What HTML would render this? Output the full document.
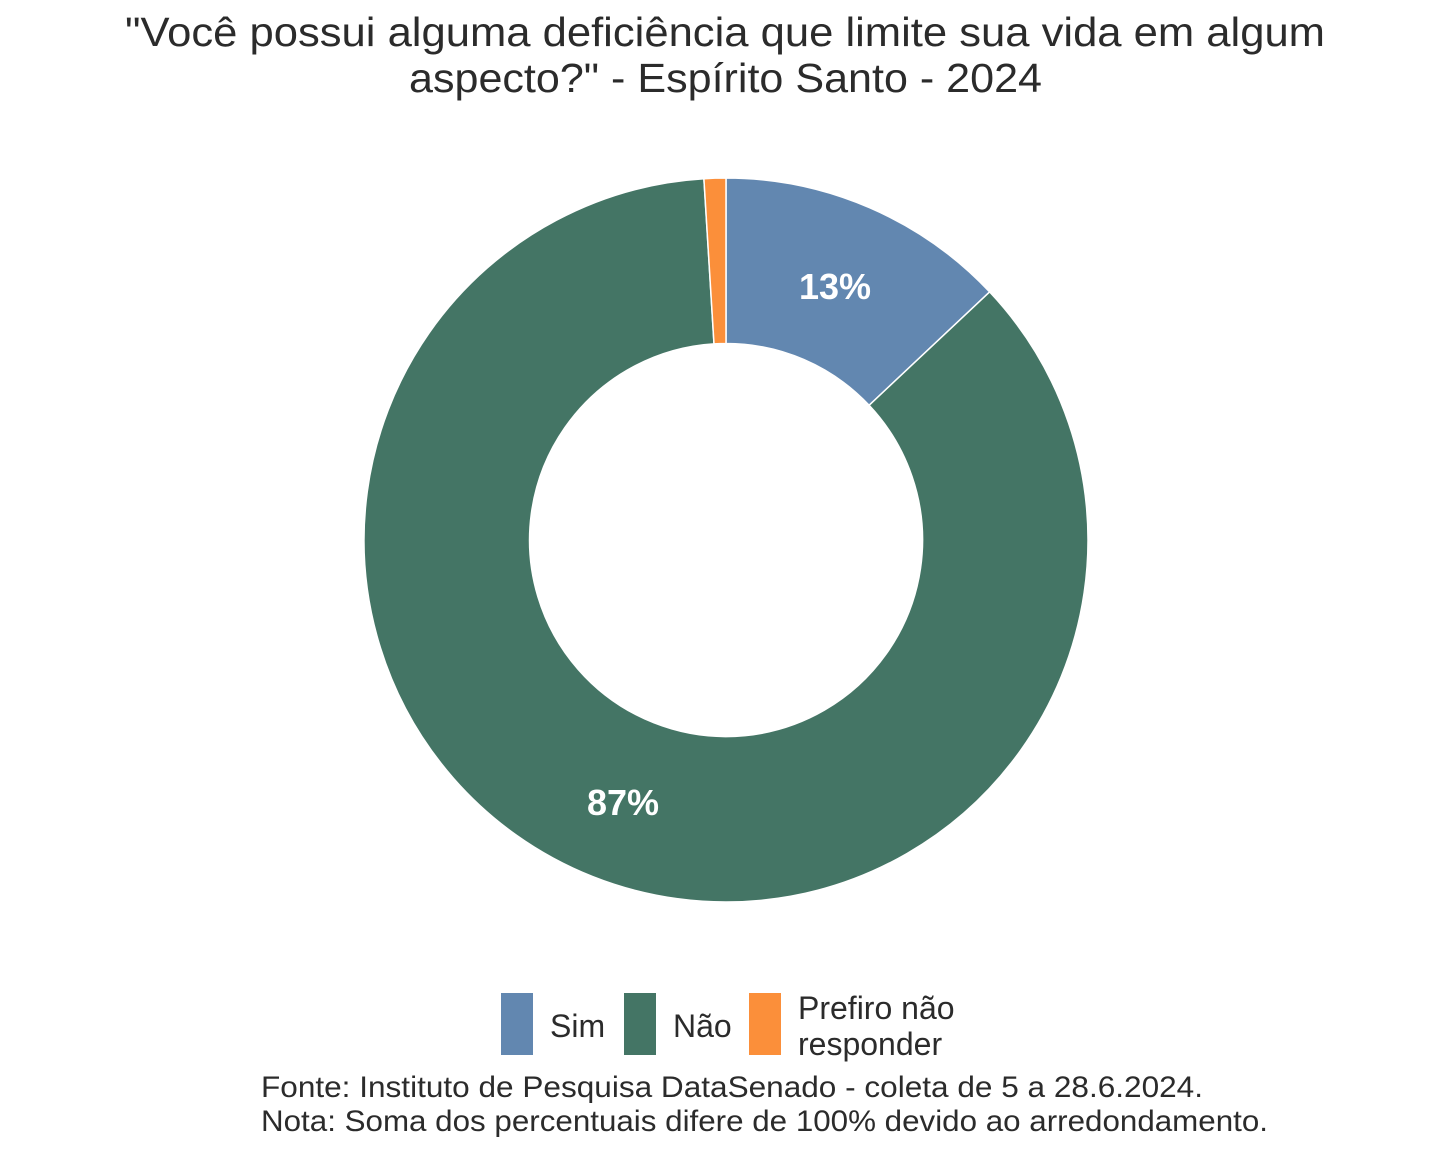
<!DOCTYPE html>
<html><head><meta charset="utf-8"><style>
body{margin:0;background:#fff;}
svg text{font-family:"Liberation Sans",Arial,sans-serif;}
</style></head><body>
<svg width="1440" height="1152" viewBox="0 0 1440 1152" xmlns="http://www.w3.org/2000/svg">
<rect width="1440" height="1152" fill="#fff"/>
<text x="125" y="46" font-size="41" fill="#2b2b2b" textLength="1200" lengthAdjust="spacingAndGlyphs">"Você possui alguma deficiência que limite sua vida em algum</text>
<text x="409" y="92" font-size="41" fill="#2b2b2b" textLength="633" lengthAdjust="spacingAndGlyphs">aspecto?" - Espírito Santo - 2024</text>
<g transform="translate(726,540)" stroke="#fff" stroke-width="1.5">
<path d="M0,-362 A362,362 0 0 1 263.6,-248.1 L143.1,-134.7 A196.5,196.5 0 0 0 0,-196.5 Z" fill="#6287b0"/>
<path d="M263.6,-248.1 A362,362 0 1 1 -22.1,-361.3 L-12.0,-196.1 A196.5,196.5 0 1 0 143.1,-134.7 Z" fill="#447565"/>
<path d="M-22.1,-361.3 A362,362 0 0 1 0,-362 L0,-196.5 A196.5,196.5 0 0 0 -12.0,-196.1 Z" fill="#fb8f3a"/>
</g>
<text x="835" y="299" font-size="36" font-weight="bold" fill="#fff" text-anchor="middle">13%</text>
<text x="623" y="815" font-size="36" font-weight="bold" fill="#fff" text-anchor="middle">87%</text>
<rect x="501" y="993" width="32" height="62" fill="#6287b0"/>
<text x="550" y="1037" font-size="32" fill="#2b2b2b">Sim</text>
<rect x="624" y="993" width="32" height="62" fill="#447565"/>
<text x="673" y="1037" font-size="32" fill="#2b2b2b">Não</text>
<rect x="749" y="993" width="32" height="62" fill="#fb8f3a"/>
<text x="798" y="1019" font-size="32" fill="#2b2b2b">Prefiro não</text>
<text x="798" y="1055" font-size="32" fill="#2b2b2b">responder</text>
<text x="261" y="1097" font-size="30" fill="#2b2b2b" textLength="942" lengthAdjust="spacingAndGlyphs">Fonte: Instituto de Pesquisa DataSenado - coleta de 5 a 28.6.2024.</text>
<text x="261" y="1131" font-size="30" fill="#2b2b2b" textLength="1007" lengthAdjust="spacingAndGlyphs">Nota: Soma dos percentuais difere de 100% devido ao arredondamento.</text>
</svg>
</body></html>
